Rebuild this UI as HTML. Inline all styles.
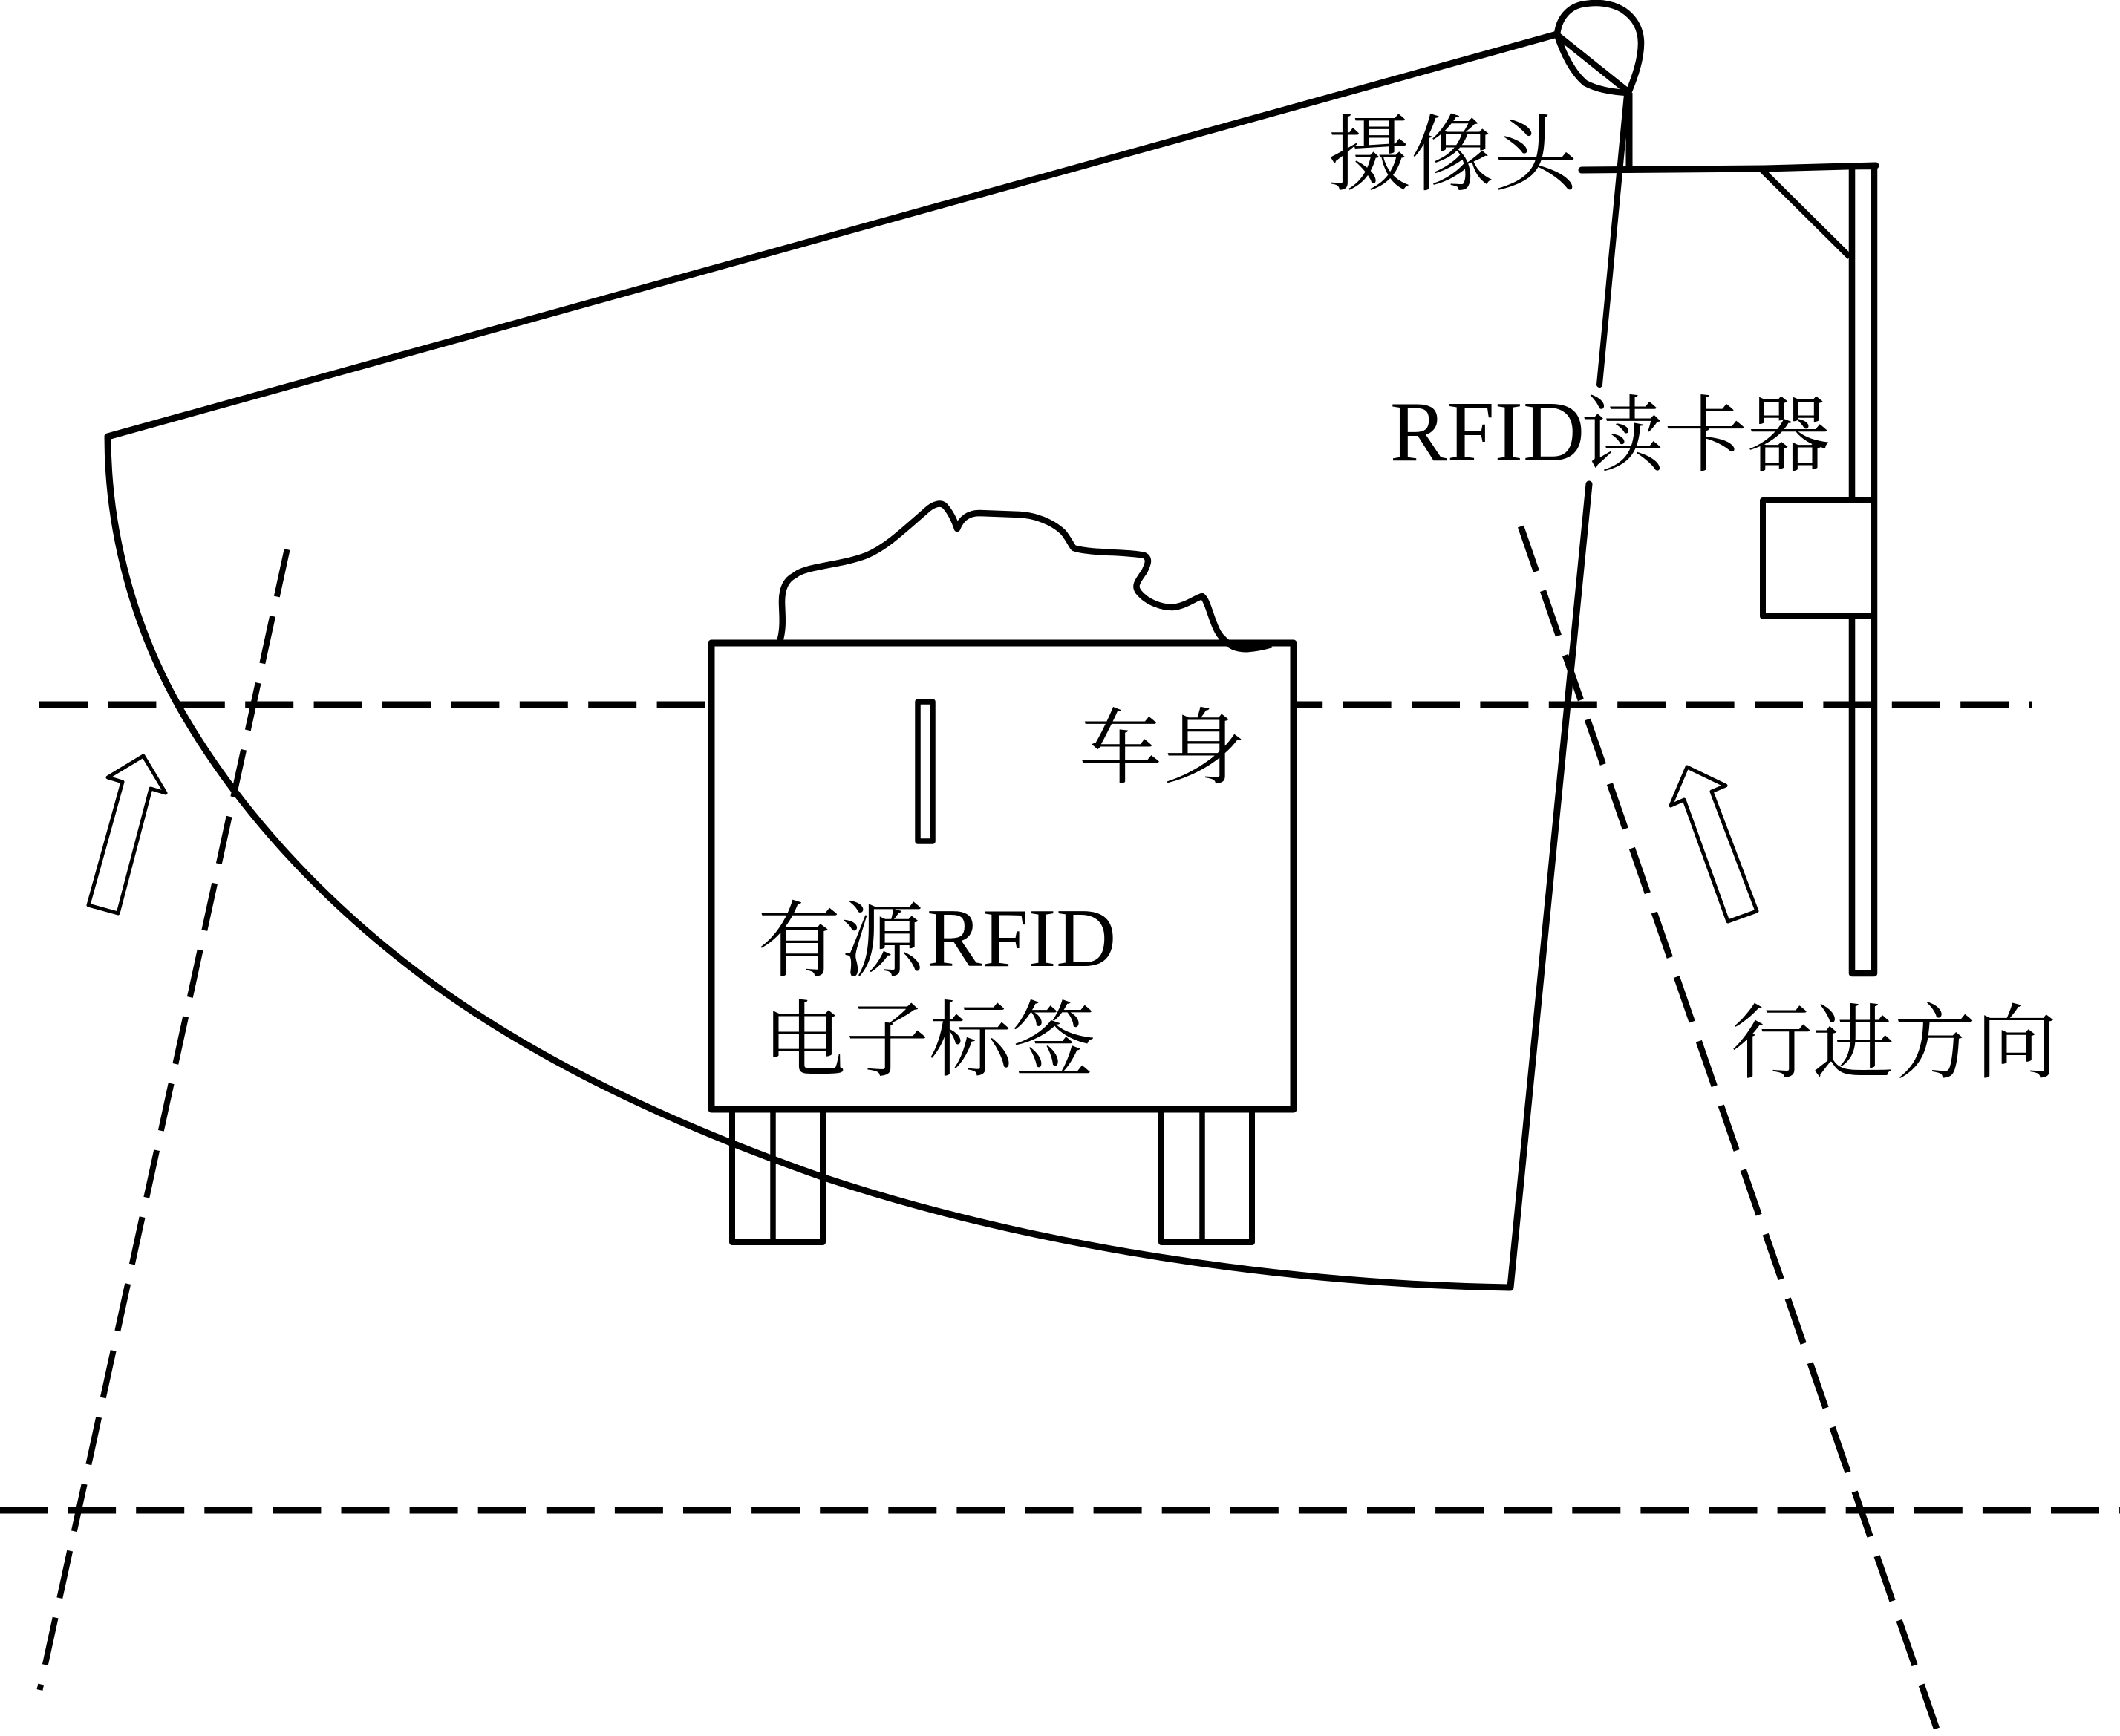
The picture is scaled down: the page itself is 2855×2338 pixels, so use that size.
<!DOCTYPE html>
<html lang="zh">
<head>
<meta charset="utf-8">
<title>RFID diagram</title>
<style>
html,body{margin:0;padding:0;background:#fff}
svg{display:block}
text{font-family:"Liberation Serif","Noto Serif CJK SC",serif;font-size:112px;fill:#000}
</style>
</head>
<body>
<svg xmlns="http://www.w3.org/2000/svg" width="2855" height="2338" viewBox="0 0 2855 2338">
<rect width="2855" height="2338" fill="#fff"/>
<g fill="none" stroke="#000" stroke-linejoin="round">
  <!-- dashed reference lines -->
  <line x1="53" y1="949" x2="2736" y2="949" stroke-width="9" stroke-dasharray="65 27.4"/>
  <line x1="-1" y1="2034" x2="2855" y2="2034" stroke-width="9" stroke-dasharray="65 27.1"/>
  <line x1="386.6" y1="740" x2="53.5" y2="2276" stroke-width="8" stroke-dasharray="65 27"/>
  <line x1="2048" y1="709" x2="2608" y2="2328" stroke-width="8.5" stroke-dasharray="64 27.7"/>

  <!-- legs and vehicle -->
  <rect x="986" y="1494" width="122" height="179" fill="#fff" stroke-width="8"/>
  <line x1="1041" y1="1494" x2="1041" y2="1673" stroke-width="7.5"/>
  <rect x="1564" y="1494" width="122" height="179" fill="#fff" stroke-width="8"/>
  <line x1="1619" y1="1494" x2="1619" y2="1673" stroke-width="7.5"/>
  <path d="M1050 864 C1056 845 1053 825 1053 810 C1053 790 1060 780 1070 775 C1085 762 1130 762 1167 748 C1190 738 1205 725 1248 687 C1258 678 1268 676 1273 682 C1280 690 1285 700 1289 712 C1295 697 1305 691 1319 691 L1373 693 C1405 695 1425 710 1432 717 C1440 727 1443 735 1446 738 C1465 745 1520 743 1541 748 C1549 752 1546 760 1541 770 C1530 785 1528 790 1533 797 C1545 812 1565 818 1579 818 C1598 816 1610 805 1619 803 C1626 808 1630 830 1638 847 C1645 862 1655 870 1679 874 C1695 873 1705 870 1709 870" stroke-width="8.5"/>
  <rect x="958" y="866" width="784" height="628" fill="#fff" stroke-width="9"/>
  <rect x="1236" y="945" width="20" height="188" fill="#fff" stroke-width="7.5"/>
  <path d="M1645 858 C1655 870 1665 874 1679 874 C1695 873 1705 870 1712 868" stroke-width="9"/>

  <!-- coverage area -->
  <path d="M2097 46 L145 588 C145 713 179 841 240 950 C320 1092 438 1216 568 1314 C728 1434 922 1520 1107 1585 C1392 1680 1730 1729 2034 1734 L2140 652" stroke-width="9" stroke-linecap="round"/>
  <line x1="2191" y1="127" x2="2154" y2="518" stroke-width="8" stroke-linecap="round"/>

  <!-- camera -->
  <path d="M2097 47 C2099 25 2112 10 2130 6 C2150 2 2170 4 2185 13 C2202 24 2210 40 2210 58 C2210 80 2202 103 2193 125 C2170 124 2150 120 2135 112 C2118 98 2105 72 2097 47 Z" stroke-width="8.5"/>
  <line x1="2097" y1="47" x2="2192" y2="123" stroke-width="8.5"/>
  <line x1="2194" y1="125" x2="2194" y2="228" stroke-width="9"/>
  <path d="M2130 229 L2376 227 L2526 223" stroke-width="9" stroke-linecap="round"/>

  <!-- pole and reader -->
  <rect x="2494" y="224" width="30" height="1087" stroke-width="8.5"/>
  <line x1="2373" y1="229" x2="2491" y2="346" stroke-width="8"/>
  <rect x="2374" y="674" width="150" height="156" fill="#fff" stroke-width="8"/>

  <!-- hollow arrows -->
  <polygon points="193,1018 223,1068 203,1062 159,1230 119,1219 165,1053 145,1047" stroke-width="5" fill="#fff"/>
  <polygon points="2272,1033 2324,1058 2305,1066 2366,1227 2327,1241 2268,1077 2250,1085" stroke-width="5" fill="#fff"/>
</g>

<!-- labels -->
<text x="1788" y="247">摄像头</text>
<text x="1872" y="620" style="font-size:115px">RFID</text>
<text x="2129" y="625">读卡器</text>
<text x="1453" y="1046">车身</text>
<text x="1020" y="1306">有源</text>
<text x="1248" y="1301">RFID</text>
<text x="1027" y="1440">电子标签</text>
<text x="2331" y="1443" style="font-size:110px">行进方向</text>
</svg>
</body>
</html>
